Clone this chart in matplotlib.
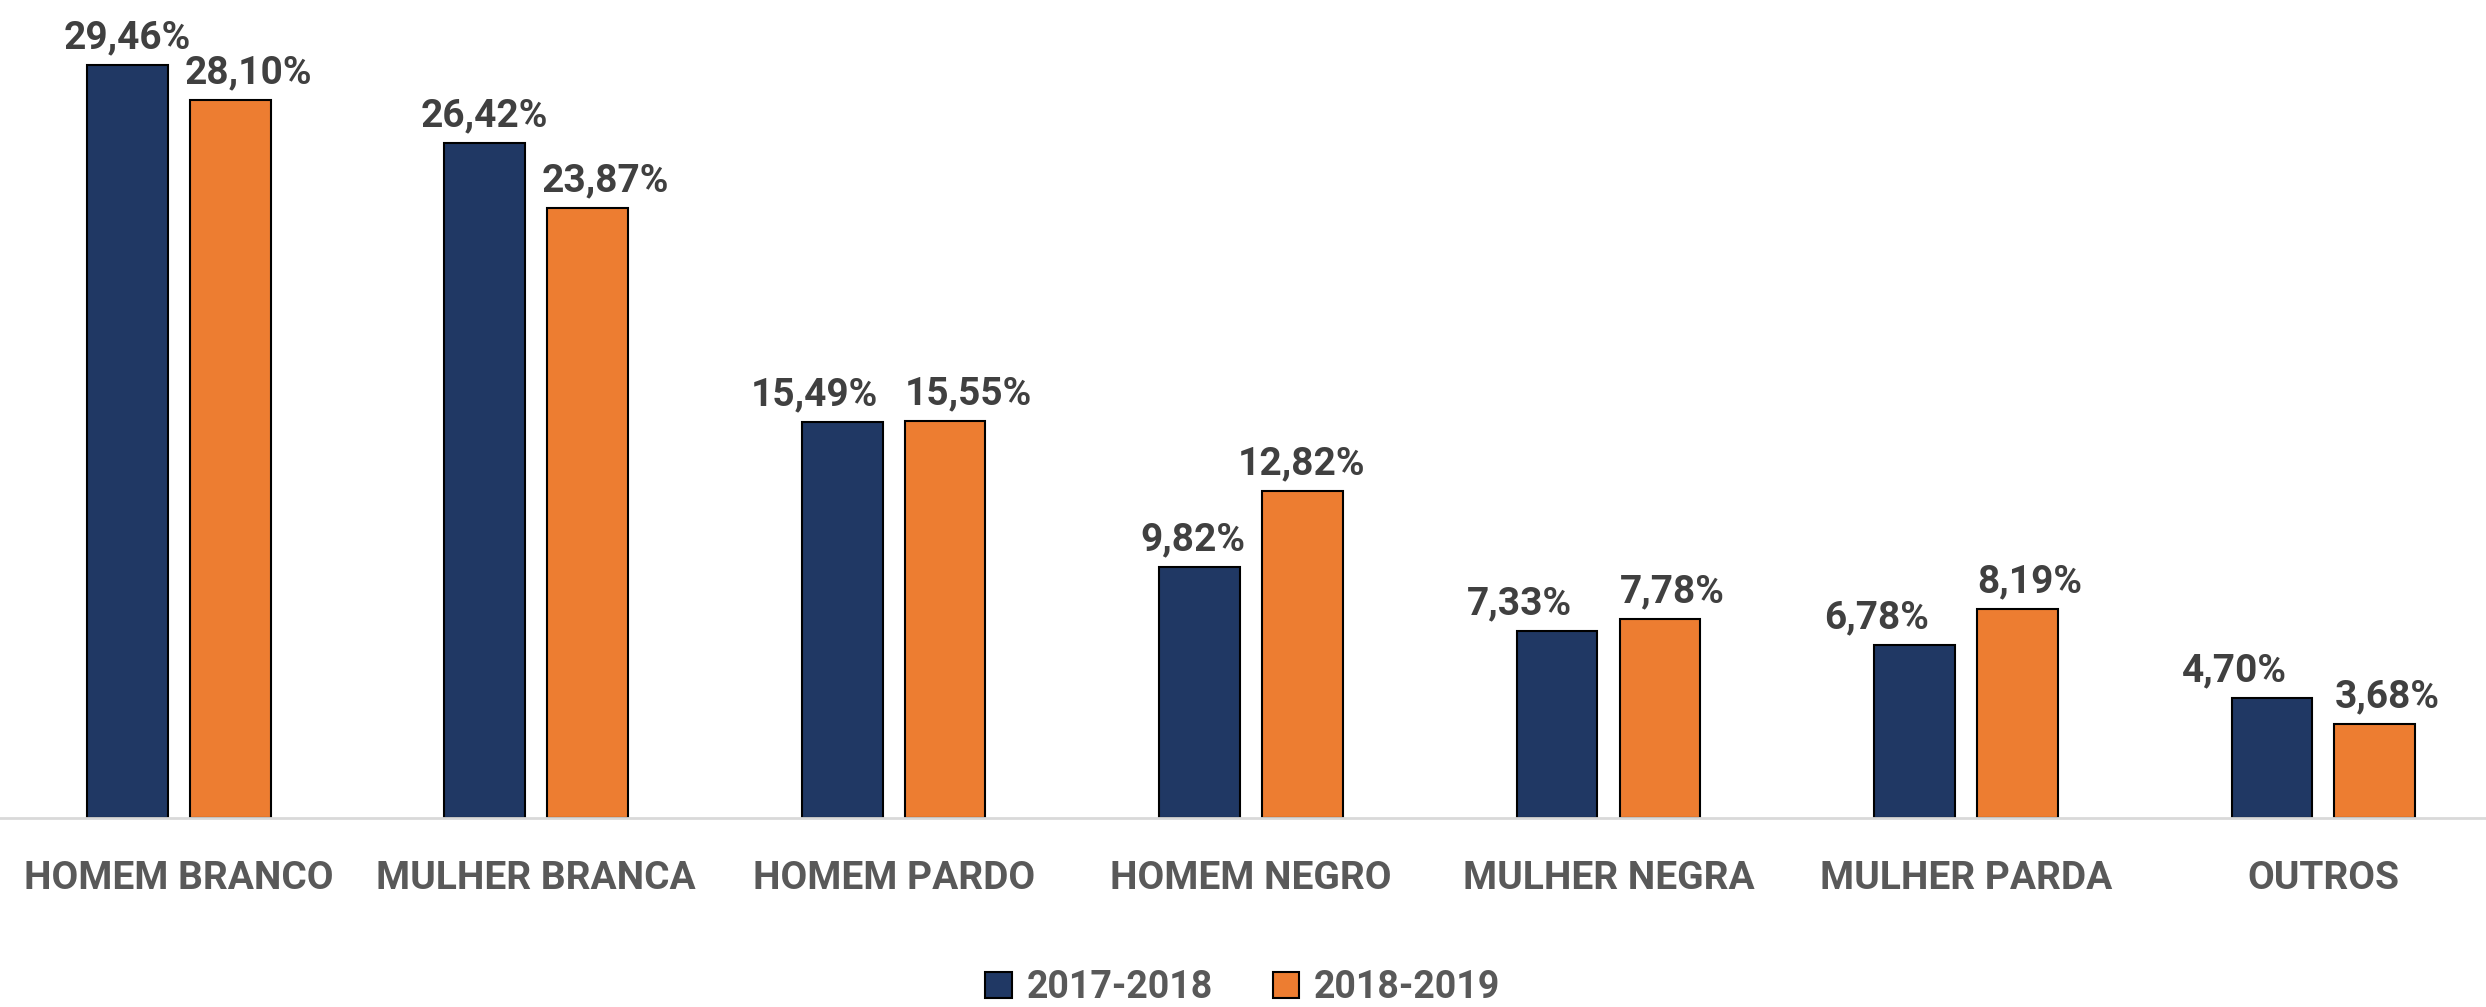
import matplotlib.pyplot as plt
import numpy as np

plt.rcParams['font.family'] = ['Roboto', 'DejaVu Sans']

# Data
categorias = ["HOMEM BRANCO", "MULHER BRANCA", "HOMEM PARDO", "HOMEM NEGRO",
              "MULHER NEGRA", "MULHER PARDA", "OUTROS"]
periodo_1 = [29.46, 26.42, 15.49, 9.82, 7.33, 6.78, 4.70]
periodo_2 = [28.10, 23.87, 15.55, 12.82, 7.78, 8.19, 3.68]
series = ["2017-2018", "2018-2019"]

# deslocamento horizontal dos rótulos (pontos)
desloc_1 = [0, 0, -20, -5, -27, -27, -27]
desloc_2 = [13, 13, 17, -1, 9, 9, 9]

azul = "#203864"
laranja = "#ED7D31"

fig = plt.figure(figsize=(24.86, 10.07), dpi=100)
ax = fig.add_axes([0.0, 0.1874, 1.0, 0.787])

x = np.arange(len(categorias))
w = 0.226
off = 0.144

b1 = ax.bar(x - off, periodo_1, w, color=azul, edgecolor="black", linewidth=1.5, label=series[0])
b2 = ax.bar(x + off, periodo_2, w, color=laranja, edgecolor="black", linewidth=1.5, label=series[1])

# rótulos de valor
def fmt(v):
    return f"{v:.2f}".replace(".", ",") + "%"

for bars, vals, dx in ((b1, periodo_1, desloc_1), (b2, periodo_2, desloc_2)):
    for r, v, d in zip(bars, vals, dx):
        ax.annotate(fmt(v), (r.get_x() + r.get_width() / 2, v),
                    xytext=(d, 12), textcoords="offset points",
                    ha="center", va="baseline", fontsize=28, fontweight="bold",
                    color="#404040")

ax.set_xlim(-0.5, 6.455)
ax.set_ylim(0, 31)
ax.set_yticks([])
for s in ["top", "right", "left"]:
    ax.spines[s].set_visible(False)
ax.spines["bottom"].set_color("#d9d9d9")
ax.spines["bottom"].set_linewidth(2)

ax.set_xticks(x)
ax.set_xticklabels(categorias, fontsize=28, fontweight="bold", color="#595959")
ax.tick_params(axis="x", length=0, pad=30)

leg = fig.legend(loc="center", bbox_to_anchor=(0.5, 0.019), ncol=2, frameon=False,
                 fontsize=27, handlelength=0.7, handleheight=0.7,
                 handletextpad=0.4, columnspacing=1.6)
for t in leg.get_texts():
    t.set_color("#595959")
    t.set_fontweight("bold")

fig.savefig("out.png", dpi=100)
